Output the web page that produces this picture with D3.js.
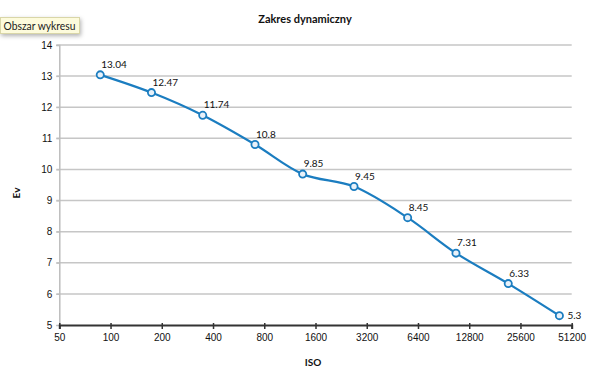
<!DOCTYPE html>
<html><head><meta charset="utf-8">
<script src="https://cdn.jsdelivr.net/npm/d3@7"></script>
<style>
html,body{margin:0;padding:0;background:#fff;}
svg{display:block;font-family:Lato,"Open Sans",sans-serif;}
</style></head>
<body><svg id="c" width="600" height="379"></svg>
<script>
const isoValues = [87, 174, 348, 706, 1345, 2694, 5565, 10700, 21700, 43350];
const evValues = [13.04, 12.47, 11.74, 10.8, 9.85, 9.45, 8.45, 7.31, 6.33, 5.3];
const xTickLabels = [50, 100, 200, 400, 800, 1600, 3200, 6400, 12800, 25600, 51200];
const yTickLabels = [5, 6, 7, 8, 9, 10, 11, 12, 13, 14];

(function () {
const svg = d3.select("#c");
const pLeft = 59.3, pRight = 571.7, pTop = 45, pBottom = 325;
const x = d3.scaleLog().base(2).domain([50, 51200]).range([pLeft, pRight]);
const y = d3.scaleLinear().domain([5, 14]).range([pBottom, pTop]);
const blue = "#1b7dc0";

// gridlines
svg.append("g").selectAll("line").data(yTickLabels.filter(d => d > 5)).join("line")
  .attr("x1", pLeft - 3).attr("x2", pRight).attr("y1", d => y(d)).attr("y2", d => y(d))
  .attr("stroke", "#c6c6c6").attr("stroke-width", 1.5);

// y axis
const yAxis = svg.append("g").attr("transform", `translate(${pLeft},0)`)
  .call(d3.axisLeft(y).tickValues(yTickLabels).tickSize(3).tickPadding(4).tickFormat(d3.format("d")));
yAxis.select(".domain").attr("stroke", "#bdbdbd").attr("stroke-width", 1.5);
yAxis.selectAll(".tick line").attr("stroke", "#bdbdbd");
yAxis.selectAll("text").attr("font-size", 10).attr("fill", "#111");

// x axis
const xAxis = svg.append("g").attr("transform", `translate(0,${pBottom})`)
  .call(d3.axisBottom(x).tickValues(xTickLabels).tickSize(4).tickPadding(5).tickFormat(d3.format("d")));
xAxis.select(".domain").attr("stroke", "#333").attr("stroke-width", 2);
xAxis.selectAll(".tick line").attr("stroke", "#333").attr("stroke-width", 1.5).attr("y1", -2);
xAxis.selectAll("text").attr("font-size", 10).attr("fill", "#111");

const pts = isoValues.map((v, i) => [v, evValues[i]]);

// line
svg.append("path").datum(pts)
  .attr("d", d3.line().x(d => x(d[0])).y(d => y(d[1])).curve(d3.curveCatmullRom.alpha(0.5)))
  .attr("fill", "none").attr("stroke", blue).attr("stroke-width", 2.2);

// markers
svg.append("g").selectAll("circle").data(pts).join("circle")
  .attr("cx", d => x(d[0])).attr("cy", d => y(d[1])).attr("r", 3.6)
  .attr("fill", "#e8f1f9").attr("stroke", blue).attr("stroke-width", 1.8);

// data labels
svg.append("g").selectAll("text").data(pts).join("text")
  .attr("x", (d, i) => i === pts.length - 1 ? x(d[0]) + 8 : x(d[0]) + 1)
  .attr("y", (d, i) => i === pts.length - 1 ? y(d[1]) + 3.5 : y(d[1]) - 7)
  .attr("font-size", 10).attr("fill", "#111")
  .text(d => d[1]);

// title
svg.append("text").attr("x", 305).attr("y", 23).attr("text-anchor", "middle")
  .attr("font-size", 11).attr("font-weight", "bold").attr("fill", "#111").text("Zakres dynamiczny");

// axis titles
svg.append("text").attr("x", 313).attr("y", 366).attr("text-anchor", "middle")
  .attr("font-size", 10).attr("font-weight", "bold").attr("fill", "#111").text("ISO");
svg.append("text").attr("transform", "translate(20,193) rotate(-90)").attr("text-anchor", "middle")
  .attr("font-size", 10).attr("font-weight", "bold").attr("fill", "#111").text("Ev");

// tooltip box
const defs = svg.append("defs");
const f = defs.append("filter").attr("id", "sh").attr("x", "-20%").attr("y", "-40%").attr("width", "150%").attr("height", "200%");
f.append("feDropShadow").attr("dx", 1).attr("dy", 2).attr("stdDeviation", 2).attr("flood-color", "#000").attr("flood-opacity", 0.3);
svg.append("rect").attr("x", 0.5).attr("y", 17.5).attr("width", 79).attr("height", 16)
  .attr("fill", "#fdfbdc").attr("stroke", "#d9d6a8").attr("filter", "url(#sh)");
svg.append("text").attr("x", 3.5).attr("y", 29.5).attr("font-size", 10.5).attr("fill", "#222")
  .attr("textLength", 72).attr("lengthAdjust", "spacingAndGlyphs").text("Obszar wykresu");
})();
</script></body></html>
